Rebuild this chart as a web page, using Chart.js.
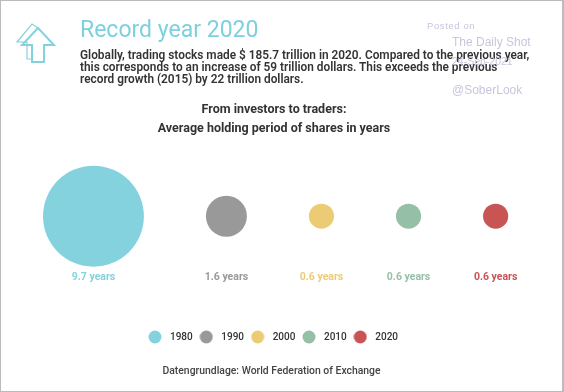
<!DOCTYPE html>
<html>
<head>
<meta charset="utf-8">
<script src="https://cdn.jsdelivr.net/npm/chart.js@4"></script>
<style>
  html, body { margin: 0; padding: 0; background: #fff; }
  #page { position: relative; width: 564px; height: 392px; overflow: hidden; font-family: Roboto, sans-serif; }
  #frame { position: absolute; left: 0; top: 0; width: 561px; height: 390px; border: 1px solid #bbb; border-width: 1px 2px 1px 1px; pointer-events: none; }
  #page div.t { position: absolute; white-space: nowrap; }
  #title { left: 80px; top: 15px; font-size: 23px; line-height: 30px; color: #7fd0de; }
  #body { left: 80px; top: 49px; font-size: 11.85px; line-height: 12px; font-weight: 600; color: #333; }
  .head { left: 0; width: 548px; text-align: center; font-size: 12.5px; line-height: 15px; font-weight: 700; color: #333; }
  #source { left: 0; width: 543px; top: 365px; text-align: center; font-size: 10.4px; line-height: 12px; font-weight: 500; color: #444; }
  .mark { font-family: "Liberation Sans", sans-serif; color: #c6c6de; }
  canvas { position: absolute; left: 0; top: 0; }
  svg { position: absolute; left: 0; top: 0; }
</style>
</head>
<body>
<div id="page">
  <canvas id="canvasDiv" width="564" height="392"></canvas>
  <svg width="80" height="80" fill="none" stroke="#85d2df">
    <polyline stroke-width="1.2" points="32,59 27,59 27,42 17,42 32,24 38,28"/>
    <polygon stroke-width="2" points="38,28 54,45 44,45 44,62 32,62 32,45 22,45"/>
  </svg>
  <div class="t" id="title">Record year 2020</div>
  <div class="t" id="body">Globally, trading stocks made $ 185.7 trillion in 2020. Compared to the previous year,<br>this corresponds to an increase of 59 trillion dollars. This exceeds the previous<br>record growth (2015) by 22 trillion dollars.</div>
  <div class="t head" style="top:101px">From investors to traders:</div>
  <div class="t head" style="top:120px">Average holding period of shares in years</div>
  <div class="t" id="source">Datengrundlage: World Federation of Exchange</div>
  <div class="t mark" style="left:427px;top:20px;font-size:9.5px;letter-spacing:.6px">Posted on</div>
  <div class="t mark" style="left:452px;top:35px;font-size:12px">The Daily Shot</div>
  <div class="t mark" style="left:452px;top:55px;font-size:10.5px">24-Sep-2021</div>
  <div class="t mark" style="left:452px;top:83px;font-size:12px">@SoberLook</div>
  <div id="frame"></div>
</div>
<script>
const years = ["1980", "1990", "2000", "2010", "2020"];
const holdingYears = [9.7, 1.6, 0.6, 0.6, 0.6];
const colors = ["#85d2df", "#999999", "#eccb75", "#95bfa6", "#c95454"];

// circle area goes with the value, circles sit a constant gap apart
const radiusPerRootYear = 16.2;
const gap = 62;
const radii = holdingYears.map((v) => radiusPerRootYear * Math.sqrt(v));

let cursor = 43;
const centers = radii.map((r) => {
  const c = cursor + r;
  cursor = c + r + gap;
  return c;
});

function dot(color) {
  const c = document.createElement("canvas");
  c.width = 14;
  c.height = 14;
  const ctx = c.getContext("2d");
  ctx.fillStyle = color;
  ctx.beginPath();
  ctx.arc(7, 7, 6.5, 0, Math.PI * 2);
  ctx.fill();
  return c;
}

const valueLabels = {
  id: "valueLabels",
  afterDatasetsDraw(chart) {
    const ctx = chart.ctx;
    const y = chart.scales.y.getPixelForValue(0) + 61.5;
    ctx.save();
    ctx.font = "700 10.5px Roboto";
    ctx.textAlign = "center";
    ctx.textBaseline = "middle";
    chart.data.datasets.forEach((ds, i) => {
      const el = chart.getDatasetMeta(i).data[0];
      ctx.fillStyle = colors[i];
      ctx.fillText(holdingYears[i] + " years", el.x, y);
    });
    ctx.restore();
  },
};

const chart = new Chart(document.getElementById("canvasDiv"), {
  type: "bubble",
  data: {
    datasets: years.map((year, i) => ({
      label: year,
      data: [{ x: centers[i], y: 0, r: radii[i] }],
      backgroundColor: colors[i],
      borderWidth: 0,
      hoverBorderWidth: 0,
    })),
  },
  options: {
    responsive: false,
    animation: false,
    layout: { autoPadding: false, padding: { top: 104, right: 21, bottom: 40 } },
    scales: {
      x: { type: "linear", display: false, min: 0, max: 543 },
      y: { type: "linear", display: false, min: -1, max: 1 },
    },
    plugins: {
      tooltip: { enabled: false },
      legend: {
        position: "bottom",
        labels: {
          usePointStyle: true,
          pointStyleWidth: 20,
          padding: 3.6,
          color: "#333",
          font: { family: "Roboto", size: 10, weight: "500" },
          generateLabels: () =>
            years.map((year, i) => ({
              text: year,
              pointStyle: dot(colors[i]),
              fontColor: "#333",
              lineWidth: 0,
              datasetIndex: i,
            })),
        },
      },
    },
  },
  plugins: [valueLabels],
});
</script>
</body>
</html>
